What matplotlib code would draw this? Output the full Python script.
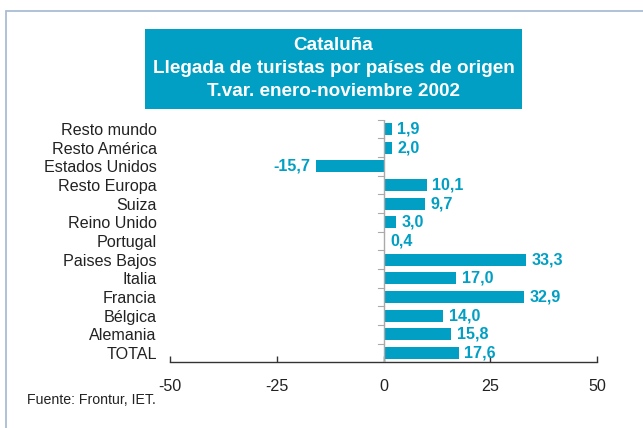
import matplotlib
matplotlib.use("Agg")
import matplotlib.pyplot as plt
from matplotlib.patches import Rectangle

categories = ["TOTAL", "Alemania", "Bélgica", "Francia", "Italia", "Paises Bajos",
              "Portugal", "Reino Unido", "Suiza", "Resto Europa", "Estados Unidos",
              "Resto América", "Resto mundo"]
values = [17.6, 15.8, 14.0, 32.9, 17.0, 33.3, 0.4, 3.0, 9.7, 10.1, -15.7, 2.0, 1.9]
xticks = [-50, -25, 0, 25, 50]
title_lines = ["Cataluña", "Llegada de turistas por países de origen", "T.var. enero-noviembre 2002"]
source = "Fuente: Frontur, IET."

plt.rcParams['font.family'] = ['Liberation Sans', 'DejaVu Sans']
W, H = 643, 428
fig = plt.figure(figsize=(W / 100, H / 100), dpi=100)

BLUE = "#009FC3"

# outer frame
fig.patches.append(Rectangle((6 / W, -0.05), 1.1, 1 - 11 / H + 0.05, transform=fig.transFigure,
                             fill=False, edgecolor="#A9BDD2", linewidth=1.3))

# title box
bx0, bx1, by0, by1 = 145, 522, 29, 109
fig.patches.append(Rectangle((bx0 / W, 1 - by1 / H), (bx1 - bx0) / W, (by1 - by0) / H,
                             transform=fig.transFigure, facecolor=BLUE, edgecolor="none"))
for i, line in enumerate(title_lines):
    fig.text((bx0 + bx1) / 2 / W, 1 - (46 + 22.5 * i) / H, line, color="white", fontsize=13.6,
             fontweight="bold", ha="center", va="center")

# axes
left, right = 170, 597
top_px, bot_px = 119.7, 362
ax = fig.add_axes([left / W, 1 - bot_px / H, (right - left) / W, (bot_px - top_px) / H])
ypos = list(range(len(categories)))
ax.barh(ypos, values, height=0.65, color=BLUE, zorder=2)
ax.set_xlim(-50, 50)
ax.set_ylim(-0.48, len(categories) - 0.5)

for s in ["top", "right", "left"]:
    ax.spines[s].set_visible(False)
ax.spines["bottom"].set_color("#333333")
ax.spines["bottom"].set_linewidth(1.0)
ax.set_xticks(xticks)
ax.set_xticklabels([str(t) for t in xticks])
ax.tick_params(axis="x", direction="in", length=4, width=1.0, color="#333333",
               labelsize=11.6, pad=12, labelcolor="#222222")
ax.set_yticks(ypos)
ax.set_yticklabels(categories)
ax.tick_params(axis="y", length=0, pad=9.5, labelsize=11.6, labelcolor="#222222")

# zero line and its small ticks at category boundaries
ax.axvline(0, color="#AAAAAA", linewidth=1.0, zorder=3)
for i in range(len(categories)):
    ax.plot([-1.3, 0], [i + 0.5, i + 0.5], color="#AAAAAA", linewidth=0.8, zorder=3,
            clip_on=False)

for y, v in zip(ypos, values):
    lab = f"{v:.1f}".replace(".", ",")
    if v >= 0:
        ax.annotate(lab, (v, y), xytext=(4, 0), textcoords="offset points", ha="left",
                    va="center", color=BLUE, fontsize=11.6, fontweight="bold")
    else:
        ax.annotate(lab, (v, y), xytext=(-4.6, 0), textcoords="offset points", ha="right",
                    va="center", color=BLUE, fontsize=11.6, fontweight="bold")

fig.text(27 / W, 1 - 400 / H, source, fontsize=10.2, color="#222222", ha="left", va="center")

fig.savefig("out.png", dpi=100)
